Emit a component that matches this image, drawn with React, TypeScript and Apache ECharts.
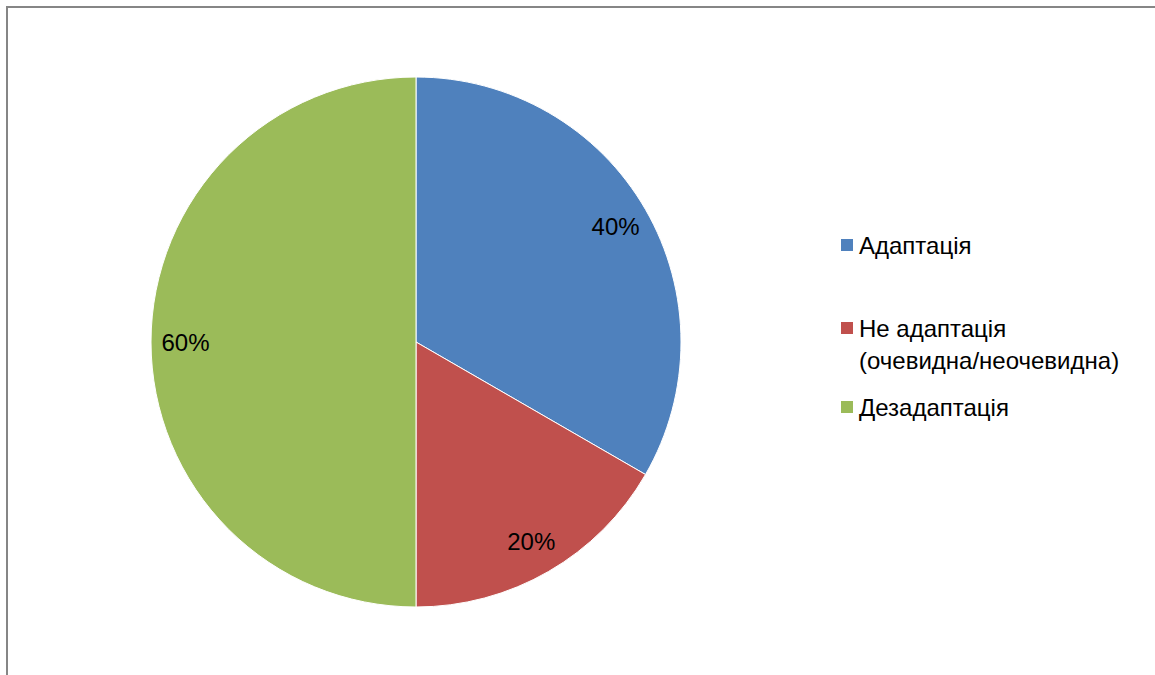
import React, { useEffect, useRef } from "react";
import * as echarts from "echarts";

const categories = ["Адаптація", "Не адаптація\n(очевидна/неочевидна)", "Дезадаптація"];
const values = [40, 20, 60];
const colors = ["#4F81BD", "#C0504D", "#9BBB59"];

const FONT = "'Liberation Sans', Arial, sans-serif";

export default function App() {
  const ref = useRef<HTMLDivElement>(null);
  useEffect(() => {
    if (!ref.current) return;
    const chart = echarts.init(ref.current, null, { renderer: "svg" });
    const data = categories.map((name, i) => ({
      name,
      value: values[i],
      itemStyle: { color: colors[i] },
    }));
    const legendBase = {
      orient: "vertical" as const,
      left: 839,
      padding: 0,
      icon: "rect",
      itemWidth: 14,
      itemHeight: 14,
      selectedMode: false,
      textStyle: { fontFamily: FONT, fontSize: 24, color: "#000", lineHeight: 32 },
    };
    chart.setOption({
      animation: false,
      backgroundColor: "#fff",
      color: colors,
      graphic: [
        {
          type: "rect",
          shape: { x: 7, y: 7, width: 1300, height: 800 },
          style: { fill: "none", stroke: "#868686", lineWidth: 2 },
          silent: true,
        },
      ],
      legend: [
        { ...legendBase, top: 229, data: [categories[0]] },
        {
          ...legendBase,
          top: 280,
          data: [categories[1]],
          formatter: (n: string) => "\n" + n,
        },
        { ...legendBase, top: 391, data: [categories[2]] },
      ],
      series: [
        {
          type: "pie",
          center: [416, 342],
          radius: [0, 265],
          startAngle: 90,
          clockwise: true,
          silent: true,
          label: { show: false },
          labelLine: { show: false },
          itemStyle: { borderColor: "#fff", borderWidth: 1 },
          emphasis: { disabled: true },
          data,
        },
        {
          type: "pie",
          center: [416, 342],
          radius: [190, 265],
          startAngle: 90,
          clockwise: true,
          silent: true,
          z: 3,
          itemStyle: { color: "transparent", borderWidth: 0 },
          label: {
            show: true,
            position: "inside",
            formatter: (p: any) => `${p.value}%`,
            fontFamily: FONT,
            fontSize: 24,
            color: "#000",
          },
          labelLine: { show: false },
          emphasis: { disabled: true },
          data: categories.map((name, i) => ({ name, value: values[i] })),
        },
      ],
    });
    return () => chart.dispose();
  }, []);
  return (
    <div
      ref={ref}
      style={{ position: "absolute", left: 0, top: 0, width: 1155, height: 675 }}
    />
  );
}
